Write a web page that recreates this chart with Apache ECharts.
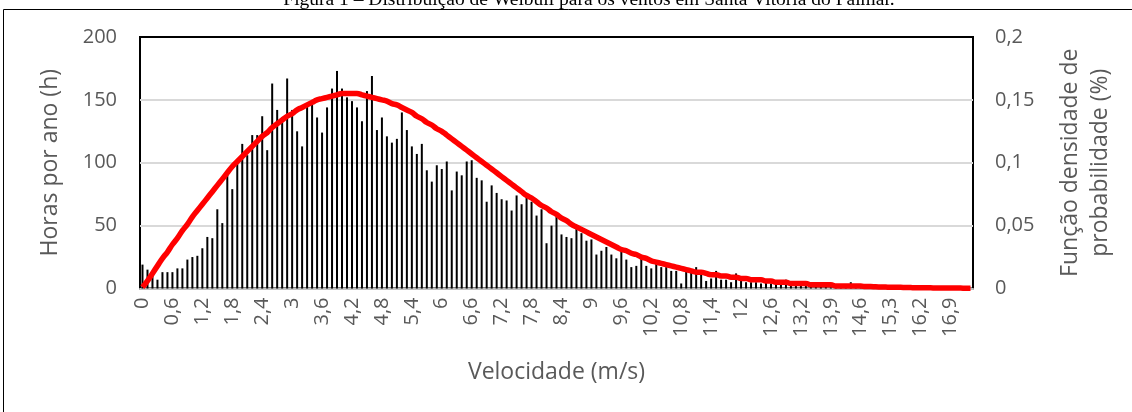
<!DOCTYPE html>
<html>
<head>
<meta charset="utf-8">
<script src="https://cdn.jsdelivr.net/npm/echarts@6/dist/echarts.min.js"></script>
<style>
html,body{margin:0;padding:0;background:#fff;}
#c{width:1132px;height:412px;}
</style>
</head>
<body>
<div id="c"></div>
<script>
const titleText = 'Figura 1 – Distribuição de Weibull para os ventos em Santa Vitória do Palmar.';
const xName = 'Velocidade (m/s)';
const yLeftName = 'Horas por ano (h)';
const yRightName = 'Função densidade de\nprobabilidade (%)';

const velocidades = [
"0","0,1","0,2","0,3","0,4","0,5","0,6","0,7","0,8","0,9",
"1","1,1","1,2","1,3","1,4","1,5","1,6","1,7","1,8","1,9",
"2","2,1","2,2","2,3","2,4","2,5","2,6","2,7","2,8","2,9",
"3","3,1","3,2","3,3","3,4","3,5","3,6","3,7","3,8","3,9",
"4","4,1","4,2","4,3","4,4","4,5","4,6","4,7","4,8","4,9",
"5","5,1","5,2","5,3","5,4","5,5","5,6","5,7","5,8","5,9",
"6","6,1","6,2","6,3","6,4","6,5","6,6","6,7","6,8","6,9",
"7","7,1","7,2","7,3","7,4","7,5","7,6","7,7","7,8","7,9",
"8","8,1","8,2","8,3","8,4","8,5","8,6","8,7","8,8","8,9",
"9","9,1","9,2","9,3","9,4","9,5","9,6","9,7","9,8","9,9",
"10","10,1","10,2","10,3","10,4","10,5","10,6","10,7","10,8","10,9",
"11","11,1","11,2","11,3","11,4","11,5","11,6","11,7","11,8","11,9",
"12","12,1","12,2","12,3","12,4","12,5","12,6","12,7","12,8","12,9",
"13","13,1","13,2","13,3","13,4","13,5","13,6","13,8","13,9",
"14","14,1","14,2","14,3","14,5","14,6",
"14,7","14,8","14,9","15","15,2","15,3",
"15,4","15,5","15,7","15,8","16","16,2",
"16,3","16,4","16,5","16,6","16,8","16,9",
"17","17,1","17,3","17,5"
];

const horasPorAno = [
19,15,10,7,13,13,13,16,16,23,
25,26,32,41,40,63,52,91,79,103,
115,106,122,122,137,110,163,142,136,167,
142,125,113,145,147,136,124,144,159,173,
159,152,149,144,133,157,169,126,136,121,
116,119,140,126,113,107,115,94,85,98,
95,101,78,93,90,101,102,88,86,69,
82,76,71,70,62,74,67,73,69,58,
63,36,50,57,43,41,40,48,44,38,
39,27,30,33,27,24,30,23,17,18,
24,18,16,20,17,17,14,14,4,14,
15,17,13,6,8,14,7,7,5,12,
6,5,5,5,4,5,4,4,4,7,
3,3,3,3,2,2,3,2,1,2,
2,1,5,1,2,1,1,1,1,0,
1,1,0,1,0,1,0,0,1,0,
0,0,1,0,0,0,0
];

const densidade = [
0.001,0.006,0.012,0.018,0.024,0.029,0.035,0.040,0.046,0.051,
0.057,0.062,0.067,0.072,0.077,0.082,0.087,0.092,0.097,0.101,
0.105,0.109,0.113,0.117,0.121,0.124,0.128,0.131,0.134,0.137,
0.139,0.142,0.144,0.146,0.148,0.150,0.151,0.152,0.153,0.154,
0.155,0.155,0.155,0.155,0.154,0.153,0.152,0.151,0.150,0.149,
0.147,0.146,0.144,0.142,0.140,0.137,0.135,0.132,0.130,0.127,
0.125,0.122,0.119,0.116,0.113,0.110,0.107,0.104,0.101,0.098,
0.095,0.092,0.089,0.086,0.083,0.080,0.077,0.074,0.072,0.069,
0.066,0.064,0.061,0.059,0.056,0.054,0.051,0.049,0.047,0.045,
0.043,0.041,0.039,0.037,0.035,0.033,0.031,0.030,0.028,0.027,
0.025,0.024,0.022,0.021,0.020,0.019,0.018,0.017,0.016,0.015,
0.014,0.013,0.013,0.012,0.011,0.011,0.010,0.010,0.009,0.009,
0.008,0.008,0.007,0.007,0.007,0.006,0.006,0.005,0.005,0.005,
0.004,0.004,0.004,0.004,0.003,0.003,0.003,0.003,0.003,0.002,
0.002,0.002,0.002,0.002,0.002,0.0015,0.0015,0.0013,0.0012,0.0011,
0.001,0.001,0.0009,0.0008,0.0007,0.0006,0.0006,0.0005,0.0005,0.0004,
0.0004,0.0004,0.0003,0.0003,0.0003,0.0002,0.0002
];

const FONT = 'Open Sans';
const GRAY = '#595959';

const chart = echarts.init(document.getElementById('c'), null, {renderer: 'canvas'});
chart.setOption({
  animation: false,
  textStyle: {fontFamily: FONT},
  graphic: [
    {type: 'rect', silent: true, z: -1,
     shape: {x: 3.5, y: 9.5, width: 1300, height: 600},
     style: {fill: 'none', stroke: '#000', lineWidth: 1}},
    {type: 'text', silent: true, x: 589, y: 0,
     style: {text: titleText, font: '19.5px "Liberation Serif"', fill: '#000',
             align: 'center', verticalAlign: 'middle'}}
  ],
  grid: {left: 140, right: 159, top: 37, bottom: 123.5, show: true,
         borderColor: '#000', borderWidth: 2, backgroundColor: 'transparent'},
  xAxis: {
    type: 'category', data: velocidades, boundaryGap: true,
    name: xName, nameLocation: 'middle', nameGap: 72,
    nameTextStyle: {fontSize: 23, color: GRAY, fontFamily: FONT},
    axisLine: {show: true, lineStyle: {color: '#bfbfbf', width: 2}},
    axisTick: {show: false},
    axisLabel: {interval: 5, rotate: 90, margin: 9, fontSize: 20, color: GRAY, fontFamily: FONT},
    splitLine: {show: false}
  },
  yAxis: [
    {type: 'value', min: 0, max: 200, interval: 50,
     name: yLeftName, nameLocation: 'middle', nameGap: 78,
     nameTextStyle: {fontSize: 23, color: GRAY, fontFamily: FONT},
     axisLine: {show: false}, axisTick: {show: false},
     axisLabel: {margin: 23, fontSize: 20, color: GRAY, fontFamily: FONT},
     splitLine: {show: true, showMaxLine: false, showMinLine: false,
                 lineStyle: {color: '#d9d9d9', width: 2}}},
    {type: 'value', min: 0, max: 0.2, interval: 0.05, position: 'right',
     name: yRightName, nameLocation: 'middle', nameGap: 82,
     nameTextStyle: {fontSize: 23, color: GRAY, fontFamily: FONT, lineHeight: 30},
     axisLine: {show: false}, axisTick: {show: false},
     axisLabel: {margin: 22, fontSize: 20, color: GRAY, fontFamily: FONT,
                 formatter: v => String(+v.toFixed(2)).replace('.', ',')},
     splitLine: {show: false}}
  ],
  series: [
    {type: 'bar', name: 'Horas', data: horasPorAno, yAxisIndex: 0,
     barWidth: 2, itemStyle: {color: '#000'}},
    {type: 'line', name: 'Weibull', data: densidade, yAxisIndex: 1,
     smooth: true, symbol: 'none', z: 5,
     lineStyle: {color: '#ff0000', width: 5.5}}
  ]
});
</script>
</body>
</html>
